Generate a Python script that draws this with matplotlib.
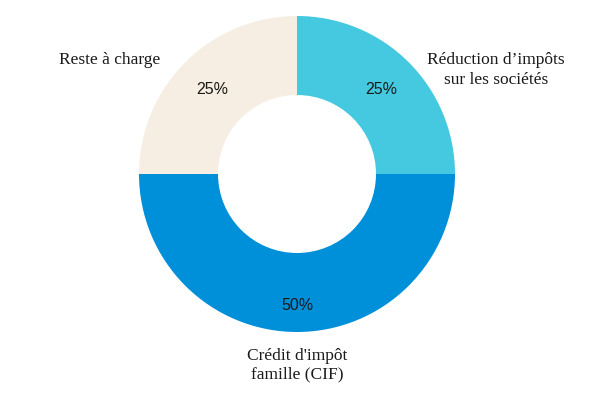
import matplotlib.pyplot as plt

# shares of the funding
labels = ["Réduction d’impôts\nsur les sociétés", "Crédit d'impôt\nfamille (CIF)", "Reste à charge"]
shares = [25, 50, 25]
colors = ["#44C9E1", "#008FD9", "#F6EEE2"]

# where the outside labels sit (pixel coords, y from the top)
label_pos = [(496, 70), (297, 365), (110, 60)]

fig = plt.figure(figsize=(5.95, 3.96), dpi=100)
ax = fig.add_axes([0, 0, 1, 1])

cx, cy, r = 297, 396 - 174, 158
wedges, texts, autotexts = ax.pie(
    shares, colors=colors, startangle=90, counterclock=False,
    center=(cx, cy), radius=r, autopct="%d%%", pctdistance=0.755,
    wedgeprops=dict(width=r - 79, linewidth=0),
    textprops=dict(fontsize=11.5, color="#1a1a1a", family="Liberation Sans"),
    frame=True,
)
# the big slice's label sits a bit further out
autotexts[1].set_position((cx, cy - 0.83 * r))

ax.set_xlim(0, 595)
ax.set_ylim(0, 396)
ax.set_aspect("equal")
ax.axis("off")

for lab, (x, y) in zip(labels, label_pos):
    ax.text(x, 396 - y, lab, ha="center", va="center", fontsize=12.5,
            family="Liberation Serif", color="#1a1a1a", linespacing=1.25)

fig.savefig("out.png", dpi=100)
